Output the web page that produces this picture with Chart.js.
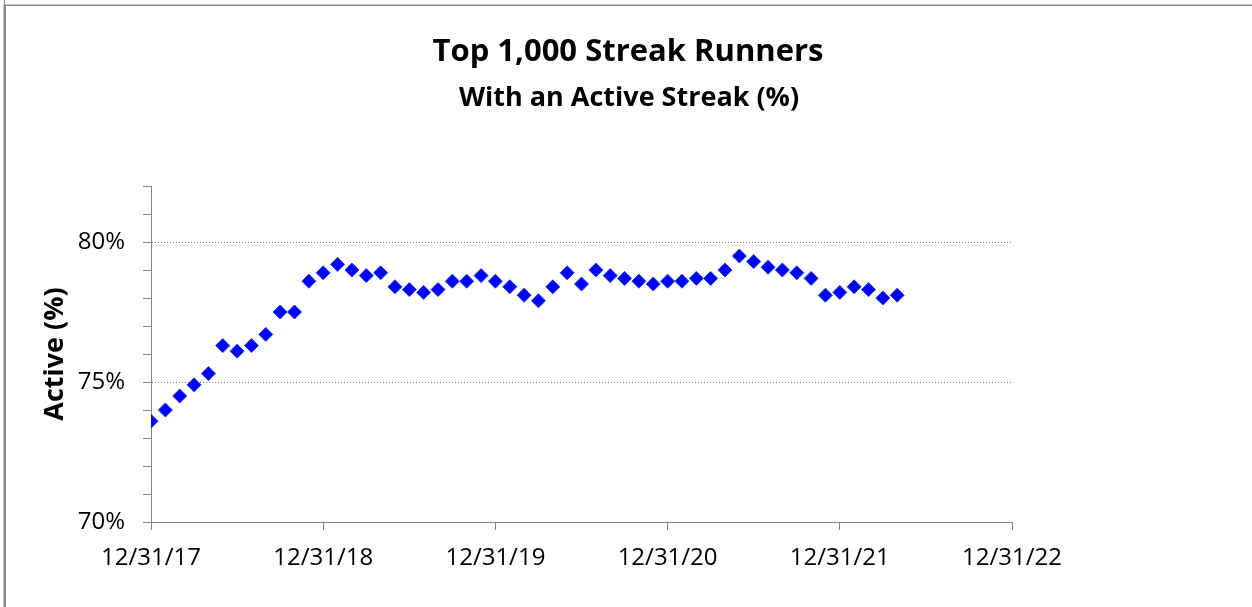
<!DOCTYPE html>
<html>
<head>
<meta charset="utf-8">
<script src="https://cdn.jsdelivr.net/npm/chart.js@4"></script>
<style>
  html, body { margin: 0; padding: 0; background: #ffffff; }
  #wrap { position: relative; width: 1252px; height: 607px; }
  canvas { display: block; }
</style>
</head>
<body>
<div id="wrap"><canvas id="c" width="1252" height="607"></canvas></div>
<script>
// ---- Data ----
const titleText = 'Top 1,000 Streak Runners';
const subtitleText = 'With an Active Streak (%)';
const yAxisTitle = 'Active (%)';

const dates = [
  '12/31/17','1/31/18','2/28/18','3/31/18','4/30/18','5/31/18','6/30/18','7/31/18','8/31/18','9/30/18','10/31/18','11/30/18',
  '12/31/18','1/31/19','2/28/19','3/31/19','4/30/19','5/31/19','6/30/19','7/31/19','8/31/19','9/30/19','10/31/19','11/30/19',
  '12/31/19','1/31/20','2/29/20','3/31/20','4/30/20','5/31/20','6/30/20','7/31/20','8/31/20','9/30/20','10/31/20','11/30/20',
  '12/31/20','1/31/21','2/28/21','3/31/21','4/30/21','5/31/21','6/30/21','7/31/21','8/31/21','9/30/21','10/31/21','11/30/21',
  '12/31/21','1/31/22','2/28/22','3/31/22','4/30/22'
];

const activePct = [
  73.6, 74.0, 74.5, 74.9, 75.3, 76.3, 76.1, 76.3, 76.7, 77.5, 77.5, 78.6,
  78.9, 79.2, 79.0, 78.8, 78.9, 78.4, 78.3, 78.2, 78.3, 78.6, 78.6, 78.8,
  78.6, 78.4, 78.1, 77.9, 78.4, 78.9, 78.5, 79.0, 78.8, 78.7, 78.6, 78.5,
  78.6, 78.6, 78.7, 78.7, 79.0, 79.5, 79.3, 79.1, 79.0, 78.9, 78.7,
  78.1, 78.2, 78.4, 78.3, 78.0, 78.1
];

const xTickLabels = ['12/31/17','12/31/18','12/31/19','12/31/20','12/31/21','12/31/22'];
const yLabeledTicks = [70, 75, 80];
const yGridTicks = [75, 80];

// months elapsed since first date
function monthIndex(d) {
  const p = d.split('/');
  const m = +p[0], y = 2000 + +p[2];
  const p0 = dates[0].split('/');
  return (y - (2000 + +p0[2])) * 12 + (m - +p0[0]);
}

const points = dates.map((d, i) => ({ x: monthIndex(d), y: activePct[i] }));

const frameAndTitle = {
  id: 'frameAndTitle',
  afterDraw(chart) {
    const ctx = chart.ctx;
    ctx.save();
    // outer frame (top + left)
    ctx.fillStyle = '#c4c4c4';
    ctx.fillRect(4, 4, chart.width - 4, 1);
    ctx.fillRect(3, 4, 1, chart.height - 4);
    ctx.fillStyle = '#8a8a8a';
    ctx.fillRect(5, 5, chart.width - 5, 1);
    ctx.fillRect(4, 0, 1, chart.height);
    ctx.fillRect(5, 5, 1, chart.height - 5);
    // titles
    ctx.fillStyle = '#000000';
    ctx.textAlign = 'center';
    ctx.textBaseline = 'alphabetic';
    ctx.font = 'bold 31px "Open Sans"';
    ctx.fillText(titleText, 628, 61);
    ctx.font = 'bold 27px "Open Sans"';
    ctx.fillText(subtitleText, 629, 106);
    ctx.restore();
  }
};

new Chart(document.getElementById('c'), {
  type: 'scatter',
  data: {
    datasets: [{
      data: points,
      pointStyle: 'rectRot',
      pointRadius: 7,
      pointHoverRadius: 7,
      backgroundColor: '#0000ff',
      borderColor: '#1a3fd0',
      borderWidth: 1,
      showLine: false
    }]
  },
  options: {
    responsive: false,
    animation: false,
    events: [],
    layout: { padding: { left: 0, right: 240, top: 186, bottom: 0 } },
    plugins: {
      legend: { display: false },
      tooltip: { enabled: false },
      title: { display: false }
    },
    scales: {
      x: {
        type: 'linear',
        min: 0,
        max: 60,
        afterFit(scale) { scale.height = 85; },
        afterBuildTicks(scale) {
          scale.ticks = xTickLabels.map((_, i) => ({ value: i * 12 }));
        },
        ticks: {
          autoSkip: false,
          maxRotation: 0,
          padding: 14,
          color: '#000000',
          font: { family: '"Open Sans"', size: 24 },
          callback: (v) => xTickLabels[Math.round(v / 12)] || ''
        },
        grid: {
          drawOnChartArea: false,
          drawTicks: true,
          tickLength: 8,
          tickColor: '#868686',
          tickWidth: 1
        },
        border: { display: true, color: '#868686', width: 1 }
      },
      y: {
        min: 70,
        max: 82,
        afterFit(scale) { scale.width = 151; },
        ticks: {
          stepSize: 1,
          autoSkip: false,
          padding: 18,
          color: '#000000',
          font: { family: '"Open Sans"', size: 24 },
          callback: (v) => yLabeledTicks.includes(v) ? v + '%' : ''
        },
        grid: {
          drawOnChartArea: true,
          drawTicks: true,
          tickLength: 8,
          color: (c) => (c.tick && yGridTicks.includes(c.tick.value)) ? '#7f7f7f' : 'rgba(0,0,0,0)',
          tickColor: '#868686',
          tickWidth: 1,
          tickBorderDash: [],
          lineWidth: 1
        },
        border: { display: true, color: '#868686', width: 1, dash: [1, 2] },
        title: {
          display: true,
          text: yAxisTitle,
          color: '#000000',
          font: { family: '"Open Sans"', size: 27, weight: 'bold' },
          padding: { top: 39, bottom: 0 }
        }
      }
    }
  },
  plugins: [frameAndTitle]
});
</script>
</body>
</html>
